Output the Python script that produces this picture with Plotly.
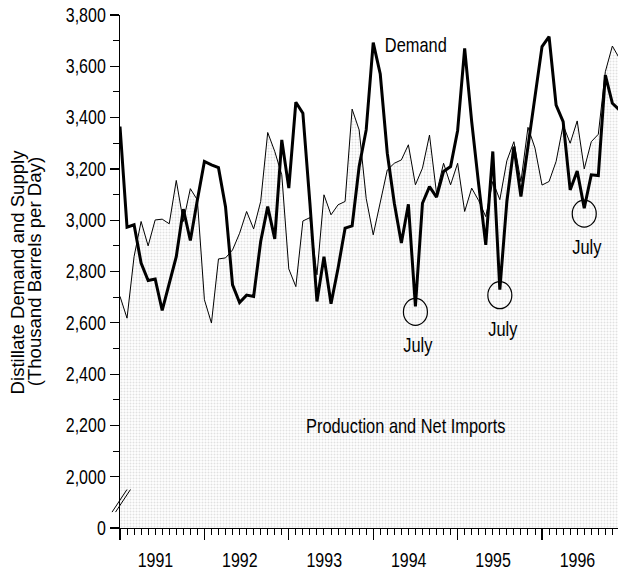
import plotly.graph_objects as go

# ---------------- data (monthly, Jan 1991 onward) ----------------
start_year = 1991
year_labels = ["1991", "1992", "1993", "1994", "1995", "1996"]

demand = [
    3365, 2973, 2982, 2833, 2765, 2771, 2648, 2755, 2858, 3043, 2921, 3079,   # 1991
    3229, 3216, 3205, 3053, 2748, 2679, 2708, 2703, 2917, 3053, 2927, 3313,   # 1992
    3125, 3460, 3417, 3066, 2683, 2858, 2674, 2813, 2969, 2978, 3209, 3352,   # 1993
    3692, 3570, 3261, 3066, 2911, 3062, 2664, 3066, 3131, 3090, 3190, 3209,   # 1994
    3350, 3670, 3384, 3138, 2904, 3268, 2729, 3073, 3287, 3092, 3281, 3475,   # 1995
    3677, 3716, 3449, 3384, 3118, 3192, 3047, 3177, 3174, 3566, 3456, 3430,   # 1996
]

production = [
    2703, 2618, 2858, 2995, 2900, 3001, 3004, 2986, 3155, 2995, 3123, 3079,   # 1991
    2690, 2599, 2849, 2853, 2884, 2949, 3034, 2966, 3073, 3342, 3268, 3177,   # 1992
    2810, 2741, 2997, 3010, 2787, 3099, 3021, 3060, 3073, 3433, 3352, 3085,   # 1993
    2943, 3066, 3196, 3222, 3235, 3294, 3138, 3203, 3332, 3105, 3222, 3138,   # 1994
    3222, 3034, 3125, 3076, 3014, 3151, 3080, 3232, 3306, 3150, 3362, 3281,   # 1995
    3137, 3151, 3229, 3371, 3300, 3387, 3200, 3306, 3335, 3579, 3679, 3631,   # 1996
]

july_years = [1994, 1995, 1996]

y_tick_vals = [1800, 2000, 2200, 2400, 2600, 2800, 3000, 3200, 3400, 3600, 3800]
y_tick_text = ["0", "2,000", "2,200", "2,400", "2,600", "2,800", "3,000",
               "3,200", "3,400", "3,600", "3,800"]
y_minor_vals = [2100, 2300, 2500, 2700, 2900, 3100, 3300, 3500, 3700]

# ---------------- derived positions ----------------
n = len(demand)
xpos = [start_year + i / 12 for i in range(n)]
year_starts = [start_year + k for k in range(len(year_labels))]
year_mids = [start_year + k + 0.42 for k in range(len(year_labels))]
month_ticks = [start_year + i / 12 for i in range(n) if i % 12 != 0]
july_idx = [(yr - start_year) * 12 + 6 for yr in july_years]

FONT = "Liberation Sans, Arial, sans-serif"

fig = go.Figure()

fig.add_trace(go.Scatter(
    x=xpos, y=production, mode="lines",
    line=dict(color="black", width=1),
    fill="tozeroy",
    fillcolor="#f1f1f1",
    fillpattern=dict(shape=".", fgcolor="#c4c4c4", bgcolor="white", size=3, solidity=0.35),
    name="Production and Net Imports", hoverinfo="skip",
))
fig.add_trace(go.Scatter(
    x=xpos, y=demand, mode="lines",
    line=dict(color="black", width=3),
    name="Demand", hoverinfo="skip",
))
# empty trace to host the label axis
fig.add_trace(go.Scatter(x=[], y=[], xaxis="x2", showlegend=False, hoverinfo="skip"))

shapes = []
for i in july_idx:
    shapes.append(dict(
        type="circle", xref="x", yref="y",
        xsizemode="pixel", ysizemode="pixel",
        xanchor=xpos[i], yanchor=demand[i],
        x0=-12, x1=12, y0=-19, y1=8,
        line=dict(color="black", width=1.2),
    ))
# axis break marks
for dx in (0.0, 0.007):
    shapes.append(dict(
        type="line", xref="paper", yref="y",
        x0=-0.016 + dx, x1=0.014 + dx, y0=1862, y1=1950,
        line=dict(color="black", width=1),
    ))

annotations = []
for i in july_idx:
    annotations.append(dict(
        x=xpos[i], y=demand[i], xref="x", yref="y",
        text="July", showarrow=False, yshift=-39, xshift=3,
        font=dict(family=FONT, size=20, color="black"),
    ))
annotations.append(dict(
    x=1994.51, y=3683, xref="x", yref="y", text="Demand", showarrow=False,
    font=dict(family=FONT, size=20, color="black"),
))
annotations.append(dict(
    x=1994.38, y=2198, xref="x", yref="y", text="Production and Net Imports",
    showarrow=False, font=dict(family=FONT, size=20, color="black"),
))
# axis title, two lines placed separately (tight spacing)
annotations.append(dict(
    x=-0.205, y=0.5, xref="paper", yref="paper", xanchor="center", yanchor="middle",
    text="Distillate Demand and Supply", showarrow=False, textangle=-90,
    font=dict(family=FONT, size=18.6, color="black"),
))
annotations.append(dict(
    x=-0.171, y=0.5, xref="paper", yref="paper", xanchor="center", yanchor="middle",
    text="(Thousand Barrels per Day)", showarrow=False, textangle=-90,
    font=dict(family=FONT, size=18.6, color="black"),
))

fig.update_layout(
    width=618, height=571,
    margin=dict(l=120, r=0, t=15, b=43, autoexpand=False),
    paper_bgcolor="white", plot_bgcolor="white",
    showlegend=False,
    shapes=shapes, annotations=annotations,
    xaxis=dict(
        range=[start_year, 1996.9], showgrid=False, zeroline=False, automargin=False,
        showline=True, linecolor="black", linewidth=1.3,
        tickmode="array", tickvals=year_starts, showticklabels=False,
        ticks="outside", ticklen=11, tickcolor="black", tickwidth=1.2,
        minor=dict(tickmode="array", tickvals=month_ticks, ticks="outside",
                   ticklen=6, tickcolor="black", tickwidth=1),
    ),
    xaxis2=dict(
        overlaying="x", anchor="y", side="bottom", automargin=False,
        range=[start_year, 1996.9], showgrid=False, zeroline=False, showline=False,
        tickmode="array", tickvals=year_mids, ticktext=year_labels,
        ticks="", ticklabelstandoff=19,
        tickfont=dict(family=FONT, size=19.5, color="black"),
    ),
    yaxis=dict(
        range=[1800, 3800], showgrid=False, zeroline=False, automargin=False,
        showline=True, linecolor="black", linewidth=1.3,
        tickmode="array", tickvals=y_tick_vals, ticktext=y_tick_text,
        ticks="outside", ticklen=9, tickcolor="black", tickwidth=1.2,
        tickfont=dict(family=FONT, size=19.5, color="black"),
        minor=dict(tickmode="array", tickvals=y_minor_vals, ticks="outside",
                   ticklen=6, tickcolor="black", tickwidth=1),
    ),
)

# Page body margin off so the figure fills the 618x571 window; the reference
# uses a condensed face and no narrow font is installed, so horizontal texts
# are squeezed in x (still real SVG text).
squeeze_js = """
document.body.style.margin = '0';
document.body.style.padding = '0';
var gd = document.getElementById('{plot_id}');
var S = 0.82;
function sq(t) {
  var x = parseFloat(t.getAttribute('x') || '0');
  var tr = t.getAttribute('transform') || '';
  t.setAttribute('transform', tr + ' translate(' + x + ',0) scale(' + S + ',1) translate(' + (-x) + ',0)');
}
gd.querySelectorAll('g.xtick text, g.x2tick text, g.ytick text').forEach(sq);
gd.querySelectorAll('g.annotation').forEach(function(g) {
  var tg = g.querySelector('g.annotation-text-g');
  var tr = tg ? (tg.getAttribute('transform') || '') : '';
  if (tr.indexOf('rotate(-90') === -1) {
    g.querySelectorAll('text.annotation-text').forEach(sq);
  }
});
"""

fig.write_html("out.html", post_script=squeeze_js,
               config={"displayModeBar": False, "staticPlot": True})
